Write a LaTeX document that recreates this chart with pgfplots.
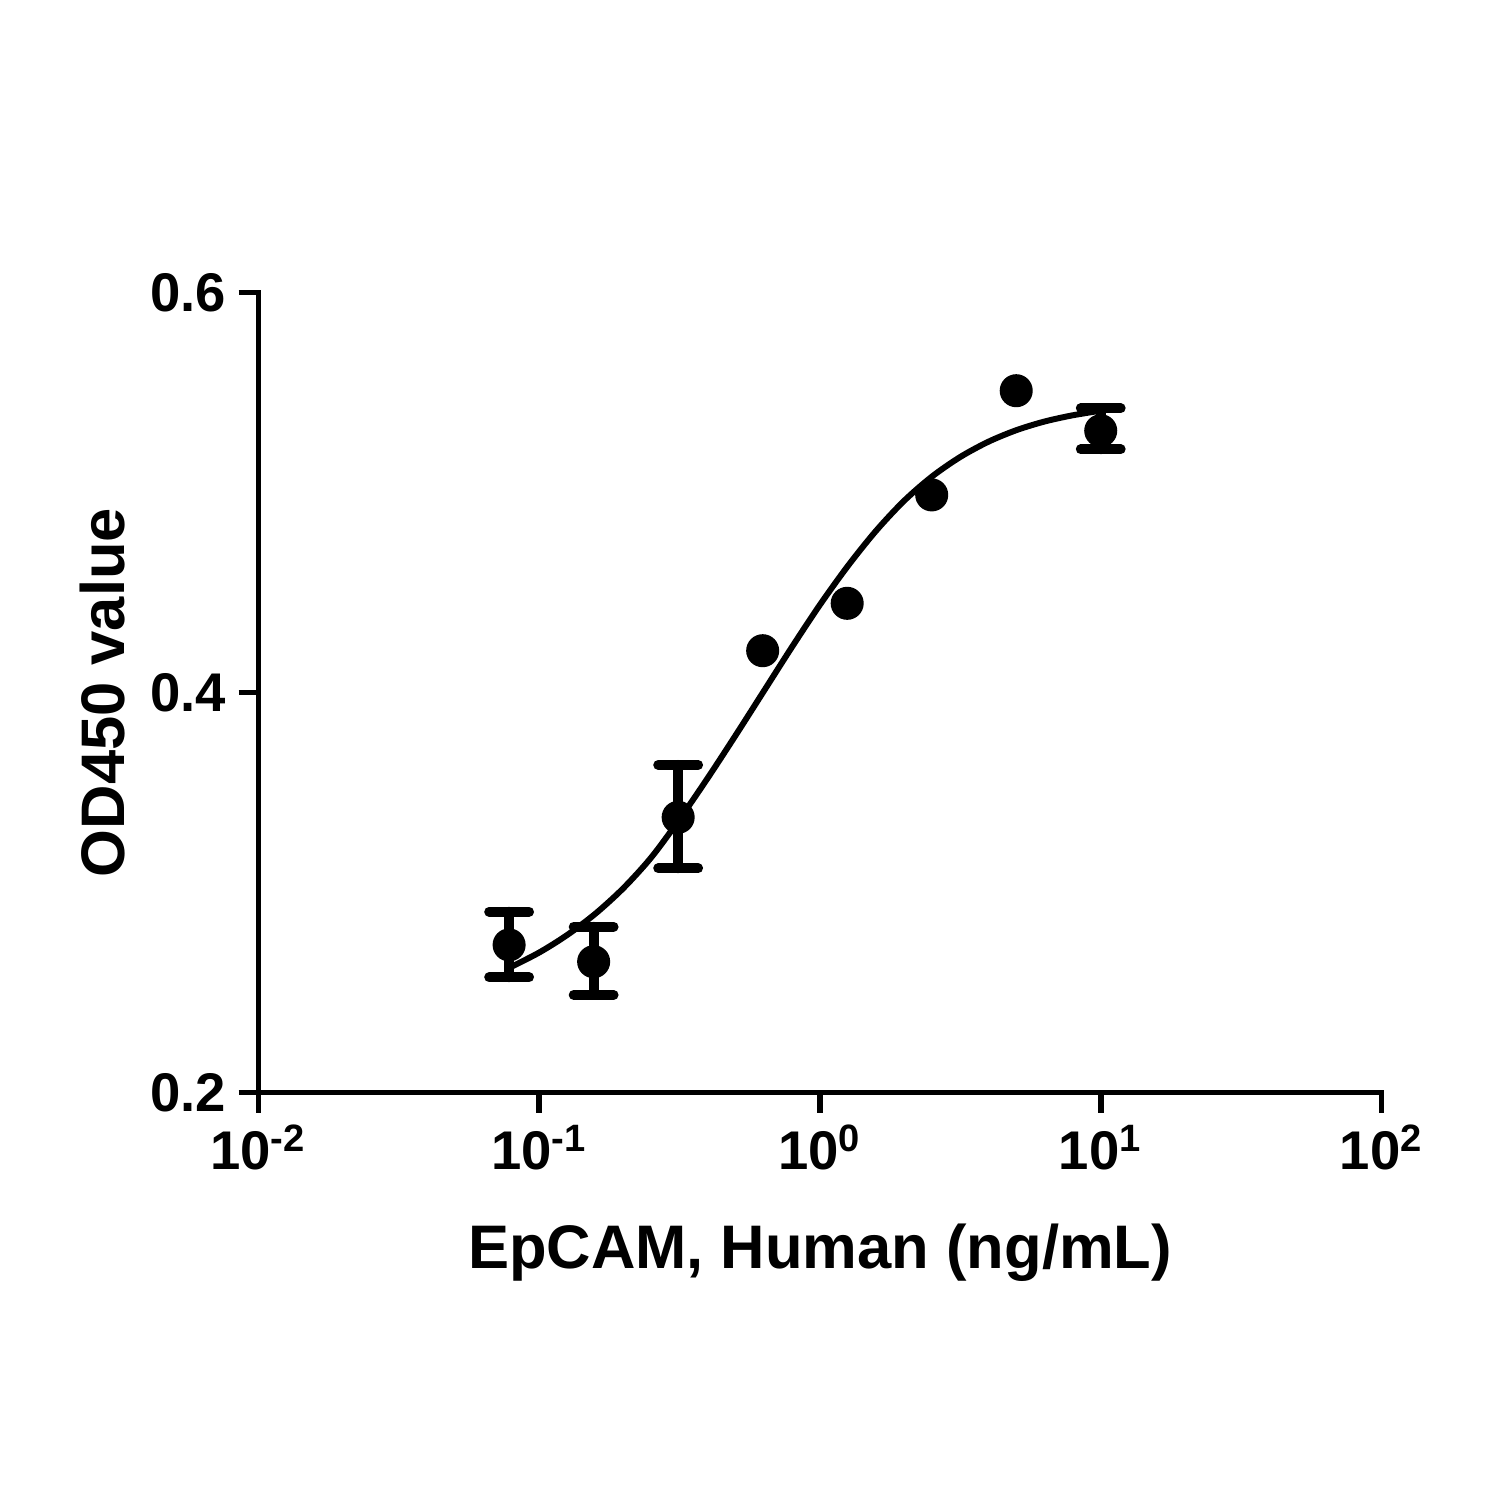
\documentclass[border=0pt]{standalone}
\usepackage{fontspec}
\setmainfont{Liberation Sans}
\usepackage{pgfplots}
\usepackage{pgfplotstable}
\pgfplotsset{compat=1.18}

\pgfplotstableread{
x y ep em
0.078125 0.2738 0.0166 0.0162
0.15625 0.2654 0.0175 0.0166
0.3125 0.3376 0.0262 0.0255
10 0.5309 0.0112 0.0093
}\errdata

\pgfplotstableread{
x y
0.625 0.4209
1.25 0.4446
2.5 0.4988
5 0.5509
}\plaindata

\pgfplotstableread{
x y
0.078125 0.2623
0.1 0.2700
0.12589 0.2788
0.15849 0.2894
0.19953 0.3022
0.25119 0.3177
0.31623 0.3367
0.39811 0.3572
0.50119 0.3787
0.63096 0.4007
0.79433 0.4227
1 0.4439
1.2589 0.4634
1.5849 0.4809
1.9953 0.4959
2.5119 0.5081
3.1623 0.5178
3.9811 0.5254
5.0119 0.5312
6.3096 0.5355
7.9433 0.5386
10 0.5409
}\curvedata

\begin{document}
\begin{tikzpicture}
\useasboundingbox (-2.585,-4.075) rectangle (12.415,10.925);
\begin{axis}[
  scale only axis,
  width=11.23cm, height=8cm,
  xmode=log,
  xmin=0.01, xmax=100,
  ymin=0.2, ymax=0.6,
  axis x line*=bottom,
  axis y line*=left,
  axis line style={-, line width=1.6pt, line cap=rect},
  tick align=outside,
  major tick length=0.2cm,
  tick style={line width=1.6pt, black},
  xminorticks=false, yminorticks=false,
  xtick={0.01,0.1,1,10,100},
  xticklabels={10\textsuperscript{-2},10\textsuperscript{-1},10\textsuperscript{0},10\textsuperscript{1},10\textsuperscript{2}},
  ytick={0.2,0.4,0.6},
  yticklabels={0.2,0.4,0.6},
  ticklabel style={font=\bfseries\fontsize{15.5}{18}\selectfont},
  xlabel={EpCAM, Human (ng/mL)},
  ylabel={OD450 value},
  label style={font=\bfseries\fontsize{17.5}{21}\selectfont},
  xlabel style={at={(axis description cs:0.5,-0.2194)}, anchor=base},
  ylabel style={at={(axis description cs:-0.1189,0.5)}, anchor=base},
]
\addplot[black, line width=1.7pt, smooth, no markers] table[x=x,y=y] {\curvedata};
\addplot[black, only marks, mark=*, mark size=4.5pt,
  error bars/.cd, y dir=both, y explicit,
  error bar style={line width=2.8pt, line cap=round},
  error mark options={rotate=90, mark size=0.2cm, line width=2.8pt, line cap=round}]
  table[x=x, y=y, y error plus=ep, y error minus=em] {\errdata};
\addplot[black, only marks, mark=*, mark size=4.5pt] table[x=x,y=y] {\plaindata};
\end{axis}
\end{tikzpicture}
\end{document}
